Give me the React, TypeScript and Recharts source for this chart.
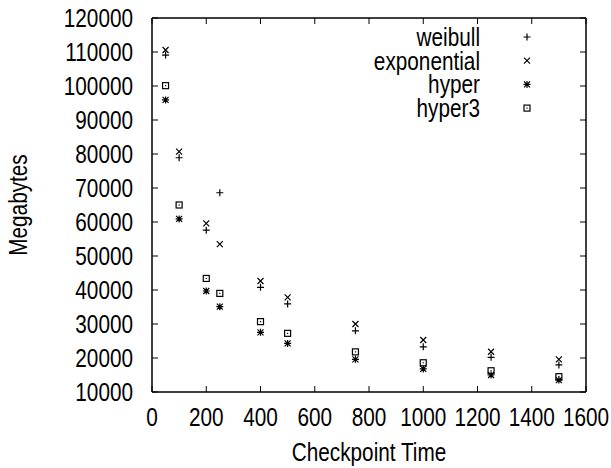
import React from 'react';
import { ScatterChart, Scatter, XAxis, YAxis } from 'recharts';

const checkpointTimes = [50, 100, 200, 250, 400, 500, 750, 1000, 1250, 1500];
const weibull = [109100, 78900, 57600, 68600, 40800, 35900, 28000, 23300, 20200, 17950];
const exponential = [110600, 80700, 59600, 53500, 42650, 37850, 30000, 25300, 21850, 19600];
const hyper = [95900, 60900, 39700, 35100, 27550, 24300, 19600, 16800, 15000, 13500];
const hyper3 = [100100, 65000, 43400, 39000, 30700, 27250, 21800, 18600, 16250, 14500];

const xTicks = [0, 200, 400, 600, 800, 1000, 1200, 1400, 1600];
const yTicks = [10000, 20000, 30000, 40000, 50000, 60000, 70000, 80000, 90000, 100000, 110000, 120000];

const FONT = '"Liberation Sans", Arial, Helvetica, sans-serif';
const FS = 25;
const SQUEEZE = 0.83; // the original uses a condensed helvetica
const TICK = 6;

type Kind = 'plus' | 'cross' | 'star' | 'box';

const toPoints = (ys: number[]) => checkpointTimes.map((t, i) => ({ t, v: ys[i] }));

const series: { name: string; kind: Kind; data: { t: number; v: number }[] }[] = [
  { name: 'weibull', kind: 'plus', data: toPoints(weibull) },
  { name: 'exponential', kind: 'cross', data: toPoints(exponential) },
  { name: 'hyper', kind: 'star', data: toPoints(hyper) },
  { name: 'hyper3', kind: 'box', data: toPoints(hyper3) },
];

const NarrowText = ({ x, y, anchor, rotate, children }: any) => (
  <g transform={`translate(${x},${y})${rotate ? ` rotate(${rotate})` : ''} scale(${SQUEEZE},1)`}>
    <text x={0} y={0} textAnchor={anchor} fontFamily={FONT} fontSize={FS} fill="#000">
      {children}
    </text>
  </g>
);

// gnuplot style point glyphs
const glyph = (kind: Kind, cx: number, cy: number) => {
  const p = 3.5;
  const c = 3;
  const plus = `M${cx - p},${cy}H${cx + p}M${cx},${cy - p}V${cy + p}`;
  const cross = `M${cx - c},${cy - c}L${cx + c},${cy + c}M${cx - c},${cy + c}L${cx + c},${cy - c}`;
  if (kind === 'plus') return <path d={plus} stroke="#000" strokeWidth={1.2} fill="none" />;
  if (kind === 'cross') return <path d={cross} stroke="#000" strokeWidth={1.2} fill="none" />;
  if (kind === 'star') return <path d={plus + cross} stroke="#000" strokeWidth={1.2} fill="none" />;
  return (
    <g>
      <rect x={cx - 3} y={cy - 3} width={6} height={6} stroke="#000" strokeWidth={1.2} fill="none" />
      <rect x={cx - 0.6} y={cy - 0.6} width={1.2} height={1.2} fill="#000" />
    </g>
  );
};

const shapeFor = (kind: Kind) => (props: any) => <g>{glyph(kind, props.cx, props.cy)}</g>;
const noShape = () => <g />;

const BottomTick = ({ x, y, payload }: any) => (
  <g>
    <line x1={x} y1={y} x2={x} y2={y - TICK} stroke="#000" strokeWidth={1} />
    <NarrowText x={x} y={y + 34} anchor="middle">{payload.value}</NarrowText>
  </g>
);

const TopTick = ({ x, y }: any) => (
  <line x1={x} y1={y} x2={x} y2={y + TICK} stroke="#000" strokeWidth={1} />
);

const LeftTick = ({ x, y, payload }: any) => (
  <g>
    <line x1={x} y1={y} x2={x + TICK} y2={y} stroke="#000" strokeWidth={1} />
    <NarrowText x={x - 19} y={y + 9} anchor="end">{payload.value}</NarrowText>
  </g>
);

const RightTick = ({ x, y }: any) => (
  <line x1={x} y1={y} x2={x - TICK} y2={y} stroke="#000" strokeWidth={1} />
);

// axis titles and the key, drawn over the chart
const Overlay = () => (
  <svg width={611} height={468} style={{ position: 'absolute', left: 0, top: 0, pointerEvents: 'none' }}>
    <NarrowText x={369} y={461} anchor="middle">Checkpoint Time</NarrowText>
    <NarrowText x={27} y={205} anchor="middle" rotate={-90}>Megabytes</NarrowText>
    {series.map((s, i) => {
      const cy = 37 + i * 23.7;
      return (
        <g key={s.name}>
          <NarrowText x={480} y={cy + 9} anchor="end">{s.name}</NarrowText>
          {glyph(s.kind, 527, cy)}
        </g>
      );
    })}
  </svg>
);

export default function App() {
  return (
    <div style={{ position: 'absolute', left: 0, top: 0, width: 611, height: 468, background: '#fff' }}>
      <ScatterChart width={611} height={468} margin={{ top: 0, right: 0, left: 0, bottom: 0 }}>
        <XAxis
          xAxisId={0}
          dataKey="t"
          type="number"
          domain={[0, 1600]}
          ticks={xTicks}
          interval={0}
          height={76}
          tickSize={0}
          tickMargin={0}
          tickLine={false}
          tick={<BottomTick />}
          axisLine={{ stroke: '#000', strokeWidth: 1.5 }}
        />
        <XAxis
          xAxisId="top"
          orientation="top"
          type="number"
          dataKey="t"
          domain={[0, 1600]}
          ticks={xTicks}
          interval={0}
          height={18}
          tickSize={0}
          tickMargin={0}
          tickLine={false}
          tick={<TopTick />}
          axisLine={{ stroke: '#000', strokeWidth: 1.5 }}
        />
        <YAxis
          yAxisId={0}
          dataKey="v"
          type="number"
          domain={[10000, 120000]}
          ticks={yTicks}
          interval={0}
          width={152}
          tickSize={0}
          tickMargin={0}
          tickLine={false}
          tick={<LeftTick />}
          axisLine={{ stroke: '#000', strokeWidth: 1.5 }}
        />
        <YAxis
          yAxisId="right"
          orientation="right"
          type="number"
          dataKey="v"
          domain={[10000, 120000]}
          ticks={yTicks}
          interval={0}
          width={25}
          tickSize={0}
          tickMargin={0}
          tickLine={false}
          tick={<RightTick />}
          axisLine={{ stroke: '#000', strokeWidth: 1.5 }}
        />
        {series.map((s) => (
          <Scatter
            key={s.name}
            name={s.name}
            data={s.data}
            xAxisId={0}
            yAxisId={0}
            shape={shapeFor(s.kind)}
            isAnimationActive={false}
          />
        ))}
        {/* binds the mirrored border axes so they get drawn */}
        <Scatter data={series[0].data} xAxisId="top" yAxisId="right" shape={noShape} isAnimationActive={false} />
      </ScatterChart>
      <Overlay />
    </div>
  );
}
